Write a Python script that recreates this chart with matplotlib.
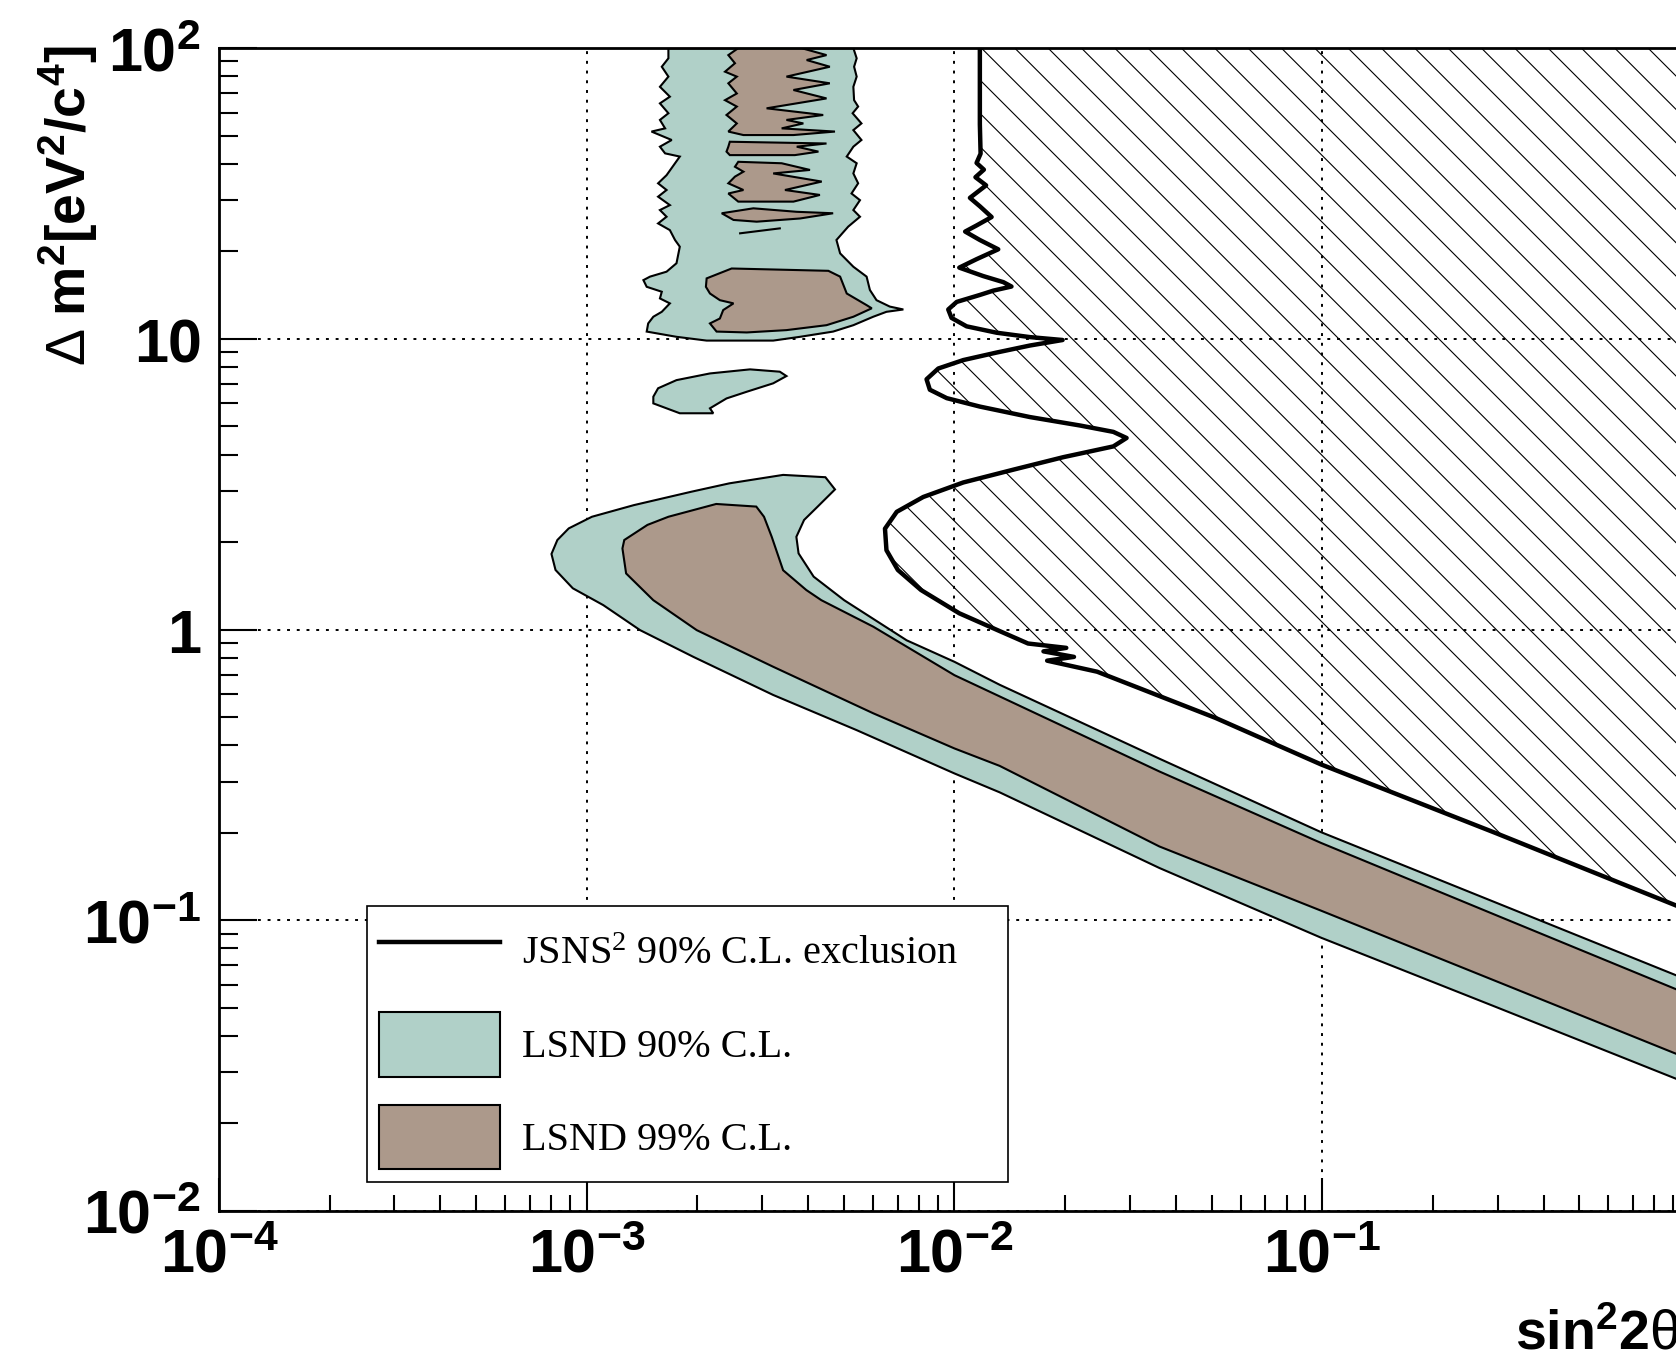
import numpy as np
import matplotlib
matplotlib.use("Agg")
import matplotlib.pyplot as plt
from matplotlib.lines import Line2D
from matplotlib.patches import Patch
from matplotlib.ticker import FixedLocator, LogLocator, NullFormatter

plt.rcParams["mathtext.fontset"] = "custom"
plt.rcParams["mathtext.rm"] = "Liberation Serif"
plt.rcParams["mathtext.it"] = "Liberation Serif:italic"
plt.rcParams["mathtext.bf"] = "Liberation Sans:bold"
plt.rcParams["mathtext.sf"] = "Liberation Sans"
plt.rcParams["hatch.linewidth"] = 0.8

# all contours given as (log10 sin^2 2theta, log10 dm^2)
jsns_exclusion = [
    (-1.931, 2.000), (-1.931, 1.738), (-1.929, 1.637), (-1.940, 1.605),
    (-1.920, 1.582), (-1.943, 1.556), (-1.914, 1.528), (-1.958, 1.485),
    (-1.931, 1.456), (-1.899, 1.419), (-1.940, 1.390), (-1.971, 1.369),
    (-1.931, 1.340), (-1.881, 1.308), (-1.940, 1.274), (-1.987, 1.245),
    (-1.922, 1.216), (-1.867, 1.195), (-1.845, 1.180), (-1.894, 1.166),
    (-1.931, 1.151), (-1.994, 1.127), (-2.017, 1.101), (-2.008, 1.072),
    (-1.967, 1.043), (-1.885, 1.021), (-1.795, 1.006), (-1.706, 0.996),
    (-1.795, 0.977), (-1.885, 0.953), (-1.976, 0.927), (-2.044, 0.898),
    (-2.076, 0.861), (-2.067, 0.825), (-2.021, 0.796), (-1.931, 0.767),
    (-1.795, 0.731), (-1.659, 0.702), (-1.568, 0.680), (-1.532, 0.659),
    (-1.568, 0.630), (-1.704, 0.593), (-1.840, 0.550), (-1.976, 0.506),
    (-2.085, 0.456), (-2.157, 0.405), (-2.189, 0.347), (-2.185, 0.273),
    (-2.154, 0.205), (-2.091, 0.136), (-1.987, 0.056), (-1.883, -0.002),
    (-1.800, -0.048), (-1.696, -0.063), (-1.758, -0.075), (-1.675, -0.094),
    (-1.748, -0.107), (-1.612, -0.145), (-1.290, -0.304), (-1.003, -0.464),
    (-0.528, -0.700), (-0.038, -0.949), (0.000, -0.968),
]

lsnd90_band = [
    (-3.096, 0.260), (-3.080, 0.308), (-3.049, 0.348), (-2.986, 0.388),
    (-2.872, 0.428), (-2.716, 0.474), (-2.612, 0.503), (-2.466, 0.532),
    (-2.351, 0.524), (-2.325, 0.482), (-2.372, 0.423), (-2.409, 0.377),
    (-2.430, 0.319), (-2.424, 0.262), (-2.383, 0.182), (-2.300, 0.101),
    (-2.130, -0.037), (-2.000, -0.111), (-1.877, -0.190), (-1.443, -0.444),
    (-1.003, -0.697), (-0.528, -0.939), (-0.038, -1.189), (0.000, -1.208),
    (0.000, -1.566), (-0.038, -1.545), (-0.528, -1.298), (-1.003, -1.060),
    (-1.443, -0.820), (-1.877, -0.560), (-2.000, -0.495), (-2.266, -0.346),
    (-2.493, -0.225), (-2.710, -0.094), (-2.855, -0.002), (-2.955, 0.084),
    (-3.038, 0.142), (-3.085, 0.205),
]

lsnd99_band = [
    (-2.903, 0.279), (-2.898, 0.308), (-2.835, 0.360), (-2.778, 0.388),
    (-2.648, 0.432), (-2.539, 0.423), (-2.518, 0.388), (-2.497, 0.319),
    (-2.466, 0.204), (-2.403, 0.136), (-2.362, 0.101), (-2.221, 0.010),
    (-2.000, -0.157), (-1.877, -0.230), (-1.443, -0.488), (-1.003, -0.734),
    (-0.528, -0.982), (-0.038, -1.237), (0.000, -1.256), (0.000, -1.479),
    (-0.038, -1.459), (-0.528, -1.209), (-1.003, -0.967), (-1.443, -0.746),
    (-1.877, -0.469), (-2.000, -0.409), (-2.221, -0.288), (-2.493, -0.128),
    (-2.701, -0.002), (-2.819, 0.101), (-2.893, 0.193),
]

lsnd90_top = [
    (-2.778, 2.000), (-2.275, 2.000), (-2.266, 1.965), (-2.273, 1.936),
    (-2.266, 1.902), (-2.275, 1.867), (-2.273, 1.821), (-2.262, 1.799),
    (-2.277, 1.776), (-2.253, 1.741), (-2.275, 1.718), (-2.253, 1.684),
    (-2.275, 1.661), (-2.293, 1.627), (-2.266, 1.604), (-2.275, 1.569),
    (-2.262, 1.535), (-2.280, 1.500), (-2.257, 1.477), (-2.275, 1.443),
    (-2.257, 1.420), (-2.289, 1.386), (-2.321, 1.340), (-2.311, 1.294),
    (-2.275, 1.248), (-2.239, 1.214), (-2.230, 1.168), (-2.212, 1.133),
    (-2.176, 1.111), (-2.139, 1.101), (-2.185, 1.093), (-2.221, 1.076),
    (-2.275, 1.047), (-2.330, 1.025), (-2.420, 1.007), (-2.493, 0.994),
    (-2.674, 0.994), (-2.756, 1.007), (-2.837, 1.025), (-2.833, 1.053),
    (-2.819, 1.076), (-2.796, 1.093), (-2.774, 1.122), (-2.801, 1.139),
    (-2.796, 1.162), (-2.837, 1.179), (-2.846, 1.202), (-2.828, 1.214),
    (-2.783, 1.231), (-2.756, 1.260), (-2.747, 1.317), (-2.760, 1.340),
    (-2.774, 1.374), (-2.806, 1.397), (-2.783, 1.420), (-2.801, 1.443),
    (-2.774, 1.460), (-2.806, 1.489), (-2.783, 1.512), (-2.806, 1.535),
    (-2.783, 1.563), (-2.747, 1.627), (-2.787, 1.638), (-2.801, 1.661),
    (-2.769, 1.684), (-2.824, 1.713), (-2.787, 1.724), (-2.801, 1.753),
    (-2.778, 1.776), (-2.801, 1.810), (-2.774, 1.833), (-2.801, 1.867),
    (-2.778, 1.902), (-2.796, 1.936), (-2.778, 1.965),
]

lsnd90_island = [
    (-2.819, 0.801), (-2.806, 0.830), (-2.756, 0.858), (-2.665, 0.881),
    (-2.556, 0.895), (-2.475, 0.887), (-2.457, 0.872), (-2.493, 0.847),
    (-2.565, 0.818), (-2.620, 0.795), (-2.665, 0.761), (-2.656, 0.744),
    (-2.747, 0.744), (-2.819, 0.778),
]

lsnd99_top = [
    [(-2.588, 2.000), (-2.416, 2.000), (-2.348, 1.976), (-2.402, 1.959),
     (-2.339, 1.936), (-2.457, 1.902), (-2.339, 1.879), (-2.438, 1.856),
     (-2.348, 1.827), (-2.511, 1.793), (-2.357, 1.770), (-2.457, 1.753),
     (-2.411, 1.741), (-2.470, 1.724), (-2.325, 1.713), (-2.438, 1.701),
     (-2.574, 1.701), (-2.615, 1.713), (-2.592, 1.741), (-2.620, 1.770),
     (-2.592, 1.799), (-2.624, 1.821), (-2.592, 1.844), (-2.615, 1.879),
     (-2.592, 1.902), (-2.624, 1.919), (-2.597, 1.948), (-2.615, 1.976)],
    [(-2.611, 1.678), (-2.348, 1.672), (-2.429, 1.661), (-2.370, 1.644),
     (-2.434, 1.632), (-2.611, 1.632), (-2.620, 1.644), (-2.615, 1.661)],
    [(-2.588, 1.609), (-2.470, 1.604), (-2.393, 1.581), (-2.493, 1.569),
     (-2.361, 1.541), (-2.461, 1.512), (-2.366, 1.495), (-2.438, 1.472),
     (-2.588, 1.472), (-2.615, 1.500), (-2.574, 1.512), (-2.615, 1.535),
     (-2.597, 1.558), (-2.574, 1.575), (-2.597, 1.592)],
    [(-2.633, 1.432), (-2.547, 1.449), (-2.429, 1.437), (-2.330, 1.432),
     (-2.420, 1.414), (-2.538, 1.403), (-2.601, 1.409)],
    [(-2.606, 1.242), (-2.343, 1.234), (-2.311, 1.214), (-2.293, 1.156),
     (-2.239, 1.116), (-2.225, 1.105), (-2.275, 1.076), (-2.348, 1.047),
     (-2.457, 1.030), (-2.565, 1.022), (-2.647, 1.025), (-2.665, 1.053),
     (-2.638, 1.070), (-2.629, 1.099), (-2.601, 1.122), (-2.638, 1.133),
     (-2.665, 1.156), (-2.676, 1.179), (-2.674, 1.208)],
]
lsnd99_stray = [(-2.583, 1.363), (-2.475, 1.380)]

x_ticks = [1e-4, 1e-3, 1e-2, 1e-1, 1]
x_labels = [r"$\mathbf{10^{-4}}$", r"$\mathbf{10^{-3}}$", r"$\mathbf{10^{-2}}$",
            r"$\mathbf{10^{-1}}$", ""]
y_ticks = [1e-2, 1e-1, 1, 10, 100]
y_labels = [r"$\mathbf{10^{-2}}$", r"$\mathbf{10^{-1}}$", r"$\mathbf{1}$",
            r"$\mathbf{10}$", r"$\mathbf{10^{2}}$"]

teal = "#b0d0c8"
brown = "#ac998b"


def to_xy(points):
    arr = 10.0 ** np.array(points)
    return arr[:, 0], arr[:, 1]


fig = plt.figure(figsize=(16.76, 13.52), dpi=100)
ax = fig.add_axes([0.1307, 0.1043, 0.8776, 0.8601])
ax.set_xscale("log")
ax.set_yscale("log")
ax.set_xlim(1e-4, 1)
ax.set_ylim(1e-2, 1e2)

edge = dict(edgecolor="black", linewidth=1.5, zorder=2)
ax.fill(*to_xy(lsnd90_band), facecolor=teal, **edge)
ax.fill(*to_xy(lsnd99_band), facecolor=brown, **edge)
ax.fill(*to_xy(lsnd90_top), facecolor=teal, **edge)
ax.fill(*to_xy(lsnd90_island), facecolor=teal, **edge)
for poly in lsnd99_top:
    ax.fill(*to_xy(poly), facecolor=brown, **edge)
ax.plot(*to_xy(lsnd99_stray), color="black", lw=1.5, zorder=2)

# exclusion region: hatched to the right of the curve
hx, hy = to_xy(jsns_exclusion + [(0.0, 2.0)])
ax.fill(hx, hy, facecolor="none", edgecolor="black", linewidth=0,
        hatch="\\", zorder=2)
ax.plot(*to_xy(jsns_exclusion), color="black", lw=3.2, zorder=3)

ax.xaxis.set_major_locator(FixedLocator(x_ticks))
ax.set_xticklabels(x_labels)
ax.yaxis.set_major_locator(FixedLocator(y_ticks))
ax.set_yticklabels(y_labels)
ax.xaxis.set_minor_locator(LogLocator(base=10, subs=np.arange(2, 10), numticks=20))
ax.yaxis.set_minor_locator(LogLocator(base=10, subs=np.arange(2, 10), numticks=20))
ax.xaxis.set_minor_formatter(NullFormatter())
ax.yaxis.set_minor_formatter(NullFormatter())

ax.tick_params(which="both", direction="in", top=False, right=False, color="black")
ax.tick_params(axis="x", which="major", length=24, width=1.5, pad=11, labelsize=44)
ax.tick_params(axis="x", which="minor", length=11.5, width=1.5)
ax.tick_params(axis="y", which="major", length=27, width=1.5, pad=13, labelsize=44)
ax.tick_params(axis="y", which="minor", length=13.7, width=1.5)
for sp in ax.spines.values():
    sp.set_linewidth(2)

ax.set_axisbelow(True)
ax.grid(True, which="major", color="black", linestyle=(0, (1.5, 3.5)), linewidth=1.4)

handles = [
    Line2D([0], [0], color="black", lw=3.2),
    Patch(facecolor=teal, edgecolor="black", linewidth=1.5),
    Patch(facecolor=brown, edgecolor="black", linewidth=1.5),
]
labels = ["JSNS$^{2}$ 90% C.L. exclusion", "LSND 90% C.L.", "LSND 99% C.L."]
leg = ax.legend(handles, labels, loc="upper left",
                bbox_to_anchor=(0.2187, 0.1248, 0.3827, 0.2048),
                bbox_transform=fig.transFigure, mode="expand", borderaxespad=0,
                fancybox=False, edgecolor="black", framealpha=1,
                prop={"family": "Liberation Serif", "size": 29},
                handlelength=3.0, handleheight=2.1, handletextpad=0.55,
                labelspacing=0.69, borderpad=0.32)
leg.get_frame().set_linewidth(1.2)

fig.text(0.0406, 0.9667, r"$\mathsf{Δ}\ \mathbf{m^{2}[eV^{2}/c^{4}]}$",
         rotation=90, ha="center", va="top", fontsize=40)
fig.text(0.9039, 0.0015, r"$\mathbf{sin^{2}2}\mathsf{θ}$",
         ha="left", va="baseline", fontsize=40)

fig.savefig("out.png", dpi=100)
